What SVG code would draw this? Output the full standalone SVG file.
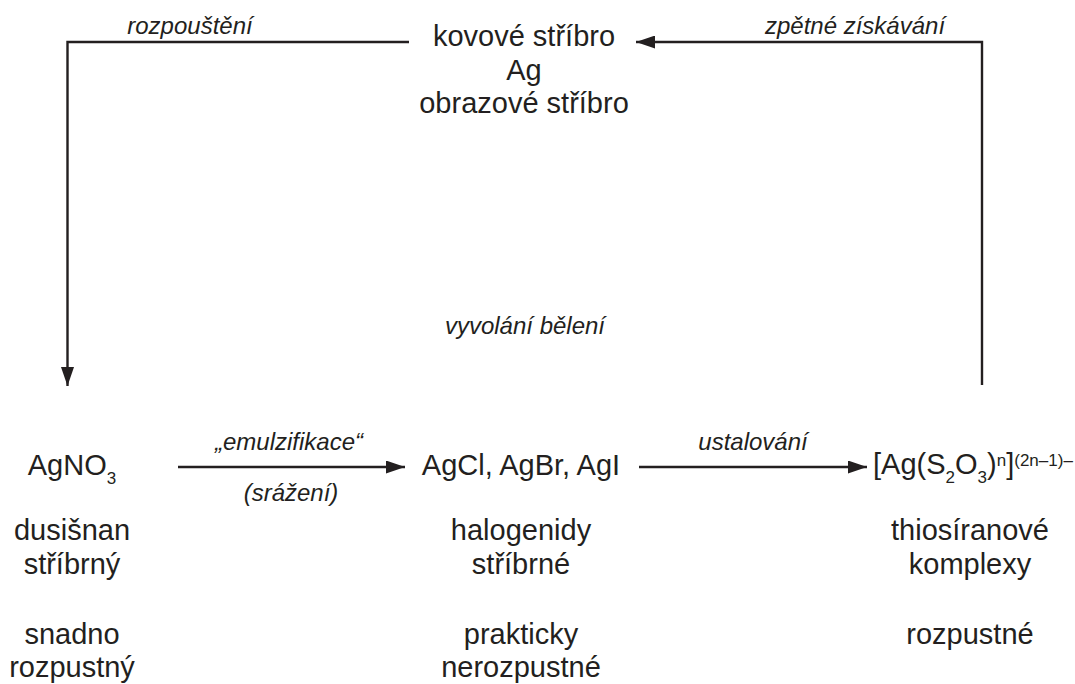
<svg xmlns="http://www.w3.org/2000/svg" width="1075" height="684" viewBox="0 0 1075 684">
<style>
.m{font-family:"Liberation Sans",Arial,sans-serif;font-size:29px;fill:#231f20;text-anchor:middle}
.l{font-family:"Liberation Sans",Arial,sans-serif;font-size:24px;font-style:italic;fill:#231f20;text-anchor:middle}
.s{font-size:17px}
.c{fill:none;stroke:#231f20;stroke-width:2.4;marker-end:url(#ah)}
</style>
<defs>
<marker id="ah" viewBox="0 0 19 13" refX="19" refY="6.5" markerWidth="19" markerHeight="13" markerUnits="userSpaceOnUse" orient="auto">
<path d="M0,0 L19,6.5 L0,13 z" fill="#231f20"/>
</marker>
</defs>
<rect width="1075" height="684" fill="#fff"/>
<g id="connectors">
<path class="c" d="M409,42 H67.5 V386"/>
<path class="c" d="M982,385 V42 H636"/>
<path class="c" d="M178,467 H405"/>
<path class="c" d="M639,467 H867"/>
</g>
<g id="labels">
<text class="l" x="190" y="34">rozpouštění</text>
<text class="l" x="855" y="34">zpětné získávání</text>
<text class="l" x="525" y="334">vyvolání bělení</text>
<text class="l" x="289" y="450">„emulzifikace“</text>
<text class="l" x="291" y="501">(srážení)</text>
<text class="l" x="753" y="450">ustalování</text>
</g>
<g id="silver">
<text class="m" x="524" y="46">kovové stříbro</text>
<text class="m" x="524" y="79.5">Ag</text>
<text class="m" x="524" y="113">obrazové stříbro</text>
</g>
<g id="agno3">
<text class="m" x="72" y="475">AgNO<tspan class="s" dy="9">3</tspan></text>
<text class="m" x="72" y="540">dusišnan</text>
<text class="m" x="72" y="574">stříbrný</text>
<text class="m" x="72" y="644">snadno</text>
<text class="m" x="72" y="677">rozpustný</text>
</g>
<g id="halides">
<text class="m" x="521" y="475">AgCl, AgBr, AgI</text>
<text class="m" x="521" y="540">halogenidy</text>
<text class="m" x="521" y="574">stříbrné</text>
<text class="m" x="521" y="644">prakticky</text>
<text class="m" x="521" y="677">nerozpustné</text>
</g>
<g id="thiosulfate">
<text class="m" x="873" y="474" style="text-anchor:start">[Ag(S<tspan class="s" dy="9">2</tspan><tspan dy="-9">O</tspan><tspan class="s" dy="9">3</tspan><tspan dy="-9">)</tspan><tspan class="s" dy="-8">n</tspan><tspan dy="8">]</tspan><tspan class="s" dy="-8">(2n–1)–</tspan></text>
<text class="m" x="970" y="540">thiosíranové</text>
<text class="m" x="970" y="574">komplexy</text>
<text class="m" x="970" y="644">rozpustné</text>
</g>
</svg>
